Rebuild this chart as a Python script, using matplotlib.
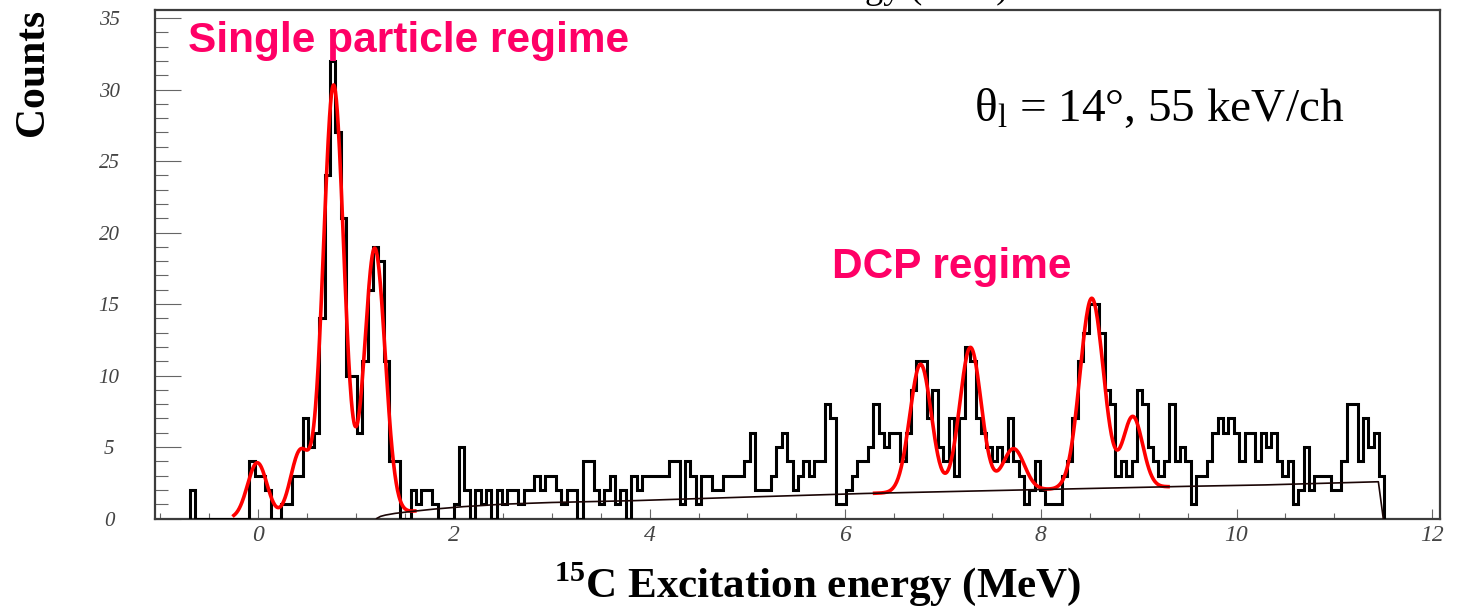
import numpy as np
import matplotlib.pyplot as plt
from matplotlib.ticker import MultipleLocator

plt.rcParams['mathtext.fontset'] = 'custom'
plt.rcParams['mathtext.rm'] = 'Liberation Serif'
plt.rcParams['mathtext.bf'] = 'Liberation Serif:bold'

# histogram: 55 keV channels, first channel starts at bin_lo (MeV)
bin_lo = -0.698
bin_w = 0.055
counts = [2, 0, 0, 0, 0, 0, 0, 0, 0, 0, 0,
          4, 3, 3, 2, 0, 0, 1, 1, 3, 3,
          7, 5, 6, 14, 24, 32, 27, 21, 10, 10,
          6, 11, 16, 19, 18, 11, 4, 4, 0, 0,
          2, 1, 2, 2, 1, 0, 0, 0, 1, 5,
          2, 0, 2, 1, 2, 0, 2, 1, 2, 2,
          1, 2, 2, 3, 2, 3, 3, 2, 1, 2,
          2, 0, 4, 4, 2, 1, 2, 3, 1, 2,
          0, 3, 2, 3, 3, 3, 3, 3, 4, 4,
          1, 4, 3, 1, 3, 3, 2, 2, 3, 3,
          3, 3, 4, 6, 2, 2, 2, 3, 5, 6,
          4, 2, 3, 4, 3, 4, 4, 8, 7, 1,
          1, 2, 3, 4, 4, 5, 8, 6, 5, 6,
          6, 4, 6, 9, 11, 11, 7, 9, 5, 4,
          7, 3, 7, 12, 11, 7, 6, 5, 4, 5,
          4, 7, 4, 3, 1, 2, 4, 2, 1, 1,
          1, 3, 4, 7, 11, 13, 15, 15, 13, 9,
          8, 3, 4, 3, 4, 9, 8, 5, 4, 3,
          4, 8, 4, 5, 4, 1, 3, 3, 4, 6,
          7, 6, 7, 6, 4, 6, 6, 4, 6, 5,
          6, 4, 3, 4, 1, 2, 5, 2, 3, 3,
          3, 2, 2, 4, 8, 8, 4, 7, 5, 6, 3]

# background
bg_e = [1.21, 1.25, 1.30, 1.40, 1.55, 1.80, 2.10, 2.50, 3.00, 3.85,
        5.00, 6.20, 7.50, 8.50, 9.50, 10.30, 11.45, 11.50]
bg_c = [0, 0.15, 0.24, 0.36, 0.48, 0.66, 0.83, 1.00, 1.12, 1.25,
        1.50, 1.75, 1.95, 2.10, 2.25, 2.35, 2.57, 0]

# fitted peaks (red curve): centre, height above background, sigma
peak_e = [-0.01, 0.43, 0.77, 1.19, 6.77, 7.28, 7.72, 8.52, 8.94]
peak_amp = [3.9, 4.7, 30.3, 18.9, 8.95, 10.05, 2.9, 13.3, 4.95]
peak_sig = [0.10, 0.10, 0.105, 0.105, 0.11, 0.11, 0.11, 0.12, 0.10]
fit_ranges = [(-0.25, 1.6), (6.3, 9.3)]

pink = '#ff0066'
tickc = '#444444'

fig = plt.figure(figsize=(14.63, 6.08), dpi=100)
ax = fig.add_axes([155 / 1463, 1 - 518.5 / 608, 1285 / 1463, 508.5 / 608])

edges = bin_lo + bin_w * np.arange(len(counts) + 1)
ax.stairs(counts, edges, color='black', lw=2.2, zorder=3)


def fit_curve(x):
    y = np.interp(x, bg_e, bg_c, left=0, right=0)
    for e0, a, s in zip(peak_e, peak_amp, peak_sig):
        y = y + a * np.exp(-0.5 * ((x - e0) / s) ** 2)
    return y


for lo, hi in fit_ranges:
    xx = np.linspace(lo, hi, 400)
    ax.plot(xx, fit_curve(xx), color='red', lw=2.6, zorder=4)

ax.plot(bg_e, bg_c, color='#1a0505', lw=1.2, zorder=5)

ax.set_xlim(-1.056, 12.08)
ax.set_ylim(0, 35.56)

ax.xaxis.set_major_locator(MultipleLocator(2))
ax.xaxis.set_minor_locator(MultipleLocator(0.5))
ax.yaxis.set_major_locator(MultipleLocator(5))
ax.yaxis.set_minor_locator(MultipleLocator(1))
ax.tick_params(axis='x', which='major', direction='in', length=7, width=0.8,
               color='#666666', pad=5, labelsize=17, labelcolor=tickc)
ax.tick_params(axis='x', which='minor', direction='in', length=4.5, width=0.8,
               color='#666666')
ax.tick_params(axis='y', which='major', direction='in', length=19, width=0.8,
               color='#666666', pad=33, labelsize=15, labelcolor=tickc)
ax.tick_params(axis='y', which='minor', direction='in', length=9.5, width=0.8,
               color='#666666')
for lab in ax.get_xticklabels() + ax.get_yticklabels():
    lab.set_family('Liberation Serif')
    lab.set_style('italic')
for lab in ax.get_yticklabels():
    lab.set_ha('center')

for sp in ax.spines.values():
    sp.set_color('#3c3c3c')
    sp.set_linewidth(1.6)

fig.text(33 / 1463, 1 - 72 / 608, 'Counts', family='Liberation Serif',
         weight='bold', fontsize=30, rotation=90, ha='center', va='center')
fig.text(818 / 1463, 1 - 584 / 608, r'$^{\mathbf{15}}$C Excitation energy (MeV)',
         family='Liberation Serif', weight='bold', fontsize=31,
         ha='center', va='center')

ax.text(0.026, 0.917, 'Single particle regime', transform=ax.transAxes,
        family='Liberation Sans', weight='bold', fontsize=30.5, color=pink,
        ha='left', va='baseline')
ax.text(5.86, 16.8, 'DCP regime', family='Liberation Sans', weight='bold',
        fontsize=30.5, color=pink, ha='left', va='baseline')
ax.text(7.32, 27.8, r'$\mathrm{\theta_{l}}$ = 14°, 55 keV/ch',
        family='Liberation Serif', fontsize=34, ha='left', va='baseline')

# histogram title, cut off by the top of the picture as in the original
fig.text(1008 / 1463, 1 + 1.5 / 608, 'Excitation energy (MeV)',
         family='Liberation Serif', fontsize=26, ha='right', va='baseline')

fig.savefig('out.png', dpi=100)
